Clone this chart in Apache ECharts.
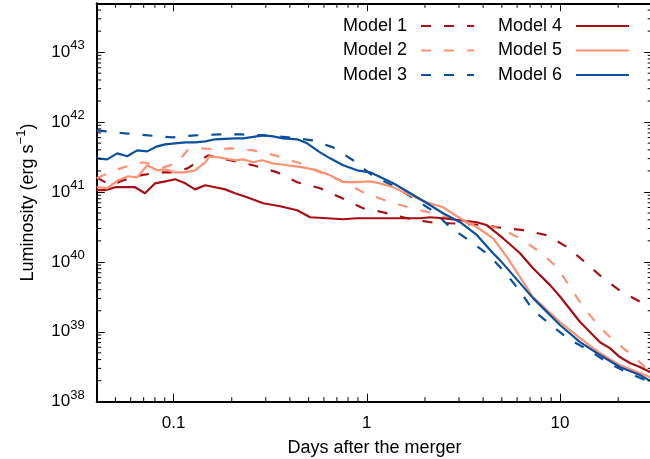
<!DOCTYPE html>
<html><head><meta charset="utf-8">
<script src="https://cdn.jsdelivr.net/npm/echarts@6/dist/echarts.min.js"></script>
<style>html,body{margin:0;padding:0;background:#fff}#c{width:650px;height:459px}</style>
</head><body><div id="c"></div><script>
// ---- data: [days, luminosity erg/s] ----
const model1 = [[0.04,1.62e41],[0.047,1.25e41],[0.0549,1.47e41],[0.0672,1.73e41],[0.0852,1.91e41],[0.0995,1.91e41],[0.118,2.18e41],[0.151,3.34e41],[0.196,2.84e41],[0.258,2.41e41],[0.344,1.91e41],[0.436,1.38e41],[0.573,1.13e41],[0.728,8.4e40],[0.957,5.85e40],[1.21,5.13e40],[1.62,4.21e40],[2.13,3.69e40],[2.70,3.57e40],[3.42,3.46e40],[4.19,3.34e40],[4.72,3.13e40],[6.44,2.84e40],[8.57,2.41e40],[10.9,1.62e40],[13.5,9.9e39],[16.7,5.85e39],[20.9,3.69e39],[26.9,2.57e39],[30,2.25e39]];
const model2 = [[0.04,1.57e41],[0.047,1.91e41],[0.0549,2.25e41],[0.0696,2.66e41],[0.0884,2.25e41],[0.104,2.57e41],[0.118,3.94e41],[0.137,4.21e41],[0.168,4.07e41],[0.196,4.21e41],[0.258,3.94e41],[0.335,3.34e41],[0.452,2.57e41],[0.573,1.91e41],[0.728,1.47e41],[0.957,9.9e40],[1.24,7.6e40],[1.64,6.04e40],[2.18,4.97e40],[2.86,3.94e40],[3.86,3.34e40],[4.89,3.03e40],[6.21,2.18e40],[7.88,1.38e40],[9.65,8.4e39],[11.3,4.35e39],[13.2,2.25e39],[15.7,1.25e39],[18.8,7.6e38],[23.6,4.65e38],[27.5,3.13e38],[30,2.66e38]];
const model3 = [[0.04,7.6e41],[0.0562,6.9e41],[0.0739,6.45e41],[0.0984,6.04e41],[0.129,6.45e41],[0.172,6.65e41],[0.226,6.65e41],[0.298,6.45e41],[0.392,6.04e41],[0.521,5.48e41],[0.669,4.35e41],[0.849,2.84e41],[1.08,1.68e41],[1.32,1.29e41],[1.68,8.7e40],[2.21,5.3e40],[2.70,3.13e40],[3.42,1.98e40],[4.29,1.25e40],[5.19,7.1e39],[6.21,3.81e39],[7.25,2.04e39],[8.98,1.25e39],[11.1,7.9e38],[14.3,5.3e38],[18.1,3.46e38],[23.3,2.49e38],[30,1.85e38]];
const model4 = [[0.04,1.06e41],[0.0443,1.06e41],[0.0499,1.17e41],[0.0632,1.17e41],[0.0711,9.6e40],[0.0803,1.33e41],[0.0905,1.42e41],[0.102,1.52e41],[0.115,1.33e41],[0.129,1.09e41],[0.146,1.25e41],[0.164,1.17e41],[0.185,1.09e41],[0.208,9.6e40],[0.240,8.4e40],[0.291,6.9e40],[0.356,6.25e40],[0.436,5.48e40],[0.509,4.35e40],[0.623,4.21e40],[0.754,4.07e40],[0.891,4.21e40],[1.04,4.21e40],[1.49,4.21e40],[1.89,4.21e40],[2.13,4.35e40],[2.48,4.21e40],[3.04,3.94e40],[3.72,3.69e40],[4.19,3.34e40],[5.07,2.18e40],[6.21,1.33e40],[7.25,8.1e39],[8.88,4.65e39],[10.0,3.2e39],[12.7,1.38e39],[16.1,7.1e38],[18.1,5.85e38],[20.4,4.35e38],[23.0,3.57e38],[25.9,3.13e38],[30,2.57e38]];
const model5 = [[0.04,1.17e41],[0.0453,1.13e41],[0.0517,1.47e41],[0.0582,1.68e41],[0.0648,1.62e41],[0.073,2.41e41],[0.0823,2.04e41],[0.0905,2.11e41],[0.102,1.91e41],[0.115,1.91e41],[0.129,2.04e41],[0.146,2.66e41],[0.153,3.24e41],[0.172,3.13e41],[0.208,2.84e41],[0.229,2.93e41],[0.258,2.66e41],[0.287,2.84e41],[0.327,2.57e41],[0.387,2.41e41],[0.468,2.25e41],[0.553,2.04e41],[0.646,1.73e41],[0.754,1.38e41],[0.891,1.38e41],[1.04,1.42e41],[1.17,1.33e41],[1.37,1.17e41],[1.68,8.97e40],[2.05,7.1e40],[2.48,6.04e40],[3.04,4.21e40],[3.72,3.13e40],[4.50,2.18e40],[5.32,1.17e40],[6.21,6.04e39],[7.25,3.13e39],[8.57,2.04e39],[10.0,1.38e39],[12.7,8.1e38],[16.1,4.97e38],[20.4,3.34e38],[25.9,2.57e38],[30,2.18e38]];
const model6 = [[0.04,3.03e41],[0.0453,2.93e41],[0.0511,3.57e41],[0.0575,3.24e41],[0.0648,3.94e41],[0.073,3.81e41],[0.0823,4.5e41],[0.0905,4.8e41],[0.102,4.97e41],[0.115,5.13e41],[0.129,5.13e41],[0.146,5.3e41],[0.164,5.67e41],[0.208,5.85e41],[0.229,5.85e41],[0.291,6.45e41],[0.327,6.25e41],[0.369,5.85e41],[0.436,5.67e41],[0.491,4.97e41],[0.573,3.69e41],[0.646,3.03e41],[0.754,2.41e41],[0.891,2.04e41],[1.04,1.91e41],[1.37,1.33e41],[1.68,9.6e40],[2.05,6.9e40],[2.48,4.97e40],[3.04,3.69e40],[3.72,2.41e40],[4.50,1.33e40],[4.89,1.06e40],[6.21,4.97e39],[7.25,3.03e39],[8.57,1.91e39],[10.0,1.25e39],[12.7,7.1e38],[16.1,4.65e38],[20.4,3.13e38],[25.9,2.41e38],[30,1.91e38]];

const seriesNames = ['Model 1','Model 2','Model 3','Model 4','Model 5','Model 6'];
const xRange = [0.04, 30];
const yRange = [1e38, 5e43];
const xMinorTicks = [0.05,0.06,0.07,0.08,0.09,0.2,0.3,0.4,0.5,0.6,0.7,0.8,0.9,2,3,4,5,6,7,8,9,20];
const yMinorMantissa = [2,3,4,5,6,7,8,9];
const yDecades = [38,39,40,41,42,43];

const RED = '#a50f15', SALMON = '#fc9272', BLUE = '#0b4f9e';
const FONT = 'Liberation Sans, Arial, sans-serif';
const DASH = [10, 13];

const yMinorTicks = [];
yDecades.forEach(e => yMinorMantissa.forEach(m => { const v = m * Math.pow(10, e); if (v < yRange[1]) yMinorTicks.push(v); }));

const isPow = v => Math.abs(Math.log10(v) - Math.round(Math.log10(v))) < 1e-6;

function lineSeries(name, data, color, dashed) {
  return {
    name, type: 'line', data, symbol: 'none', showSymbol: false,
    lineStyle: { width: 2.2, color, type: dashed ? DASH : 'solid' },
    itemStyle: { color }, emphasis: { disabled: true }, z: 3
  };
}

const chart = echarts.init(document.getElementById('c'), null, { renderer: 'canvas' });
const tickStyle = { show: true, inside: true, length: 8, lineStyle: { color: '#000', width: 1 } };
const axisLine = { show: true, lineStyle: { color: '#000', width: 2 } };
const legendBase = { orient: 'vertical', top: 17, align: 'right', itemWidth: 53, itemHeight: 18, itemGap: 6.5, padding: 0, selectedMode: false,
  itemStyle: { opacity: 0, borderWidth: 0 }, lineStyle: { width: 2.2 },
  textStyle: { fontSize: 18, color: '#000', fontFamily: FONT, padding: [0, 9, 0, 0] } };

chart.setOption({
  animation: false,
  backgroundColor: '#fff',
  grid: { left: 96.7, top: 3.3, right: -2.2, bottom: 57.3, outerBoundsMode: 'none', containLabel: false },
  legend: [
    Object.assign({}, legendBase, { data: seriesNames.slice(0,3), left: 343 }),
    Object.assign({}, legendBase, { data: seriesNames.slice(3,6), left: 498 })
  ],
  xAxis: [
    { type: 'log', logBase: 10, min: xRange[0], max: xRange[1], position: 'bottom',
      name: 'Days after the merger', nameLocation: 'middle', nameGap: 37,
      nameTextStyle: { fontSize: 18, color: '#000', fontFamily: FONT },
      axisLine, axisTick: tickStyle, splitLine: { show: false },
      axisLabel: { margin: 13, fontSize: 17, color: '#000', fontFamily: FONT, showMinLabel: true, showMaxLabel: true,
        formatter: v => { if (!isPow(v)) return ''; const e = Math.round(Math.log10(v)); return e < 0 ? Math.pow(10, e).toFixed(-e) : String(Math.pow(10, e)); } } },
    { type: 'log', logBase: 10, min: xRange[0], max: xRange[1], position: 'top',
      axisLine, axisTick: tickStyle, splitLine: { show: false }, axisLabel: { show: false } }
  ],
  yAxis: [
    { type: 'log', logBase: 10, min: yRange[0], max: yRange[1], position: 'left',
      name: '{n|Luminosity (erg s}{s|−1}{n|)}', nameLocation: 'middle', nameGap: 56, nameRotate: 90,
      nameTextStyle: { color: '#000', fontFamily: FONT, rich: {
        n: { fontSize: 18, lineHeight: 26, color: '#000', fontFamily: FONT },
        s: { fontSize: 13, lineHeight: 12, verticalAlign: 'top', color: '#000', fontFamily: FONT } } },
      axisLine, axisTick: tickStyle, splitLine: { show: false },
      axisLabel: { margin: 12, color: '#000', fontFamily: FONT, showMinLabel: true, showMaxLabel: true,
        formatter: v => isPow(v) ? '{a|10}{b|' + Math.round(Math.log10(v)) + '}' : '',
        rich: {
          a: { fontSize: 17, lineHeight: 26, color: '#000', fontFamily: FONT },
          b: { fontSize: 13, lineHeight: 12, verticalAlign: 'top', color: '#000', fontFamily: FONT } } } },
    { type: 'log', logBase: 10, min: yRange[0], max: yRange[1], position: 'right',
      axisLine, axisTick: tickStyle, splitLine: { show: false }, axisLabel: { show: false } }
  ],
  series: [
    lineSeries('Model 1', model1, RED, true),
    lineSeries('Model 2', model2, SALMON, true),
    lineSeries('Model 3', model3, BLUE, true),
    lineSeries('Model 4', model4, RED, false),
    lineSeries('Model 5', model5, SALMON, false),
    lineSeries('Model 6', model6, BLUE, false),
    { type: 'custom', silent: true, clip: false, z: 5,
      data: xMinorTicks.map(v => [v, yRange[0]]),
      renderItem: (p, api) => {
        const v = api.value(0);
        const b = api.coord([v, yRange[0]]), t = api.coord([v, yRange[1]]);
        return { type: 'group', children: [
          { type: 'line', shape: { x1: b[0], y1: b[1], x2: b[0], y2: b[1] - 4.5 }, style: { stroke: '#000', lineWidth: 1 } },
          { type: 'line', shape: { x1: t[0], y1: t[1], x2: t[0], y2: t[1] + 4.5 }, style: { stroke: '#000', lineWidth: 1 } } ] };
      } },
    { type: 'custom', silent: true, clip: false, z: 5,
      data: yMinorTicks.map(v => [xRange[0], v]),
      renderItem: (p, api) => {
        const v = api.value(1);
        const l = api.coord([xRange[0], v]), r = api.coord([xRange[1], v]);
        return { type: 'group', children: [
          { type: 'line', shape: { x1: l[0], y1: l[1], x2: l[0] + 4.5, y2: l[1] }, style: { stroke: '#000', lineWidth: 1 } },
          { type: 'line', shape: { x1: r[0], y1: r[1], x2: r[0] - 4.5, y2: r[1] }, style: { stroke: '#000', lineWidth: 1 } } ] };
      } }
  ]
});
</script></body></html>
